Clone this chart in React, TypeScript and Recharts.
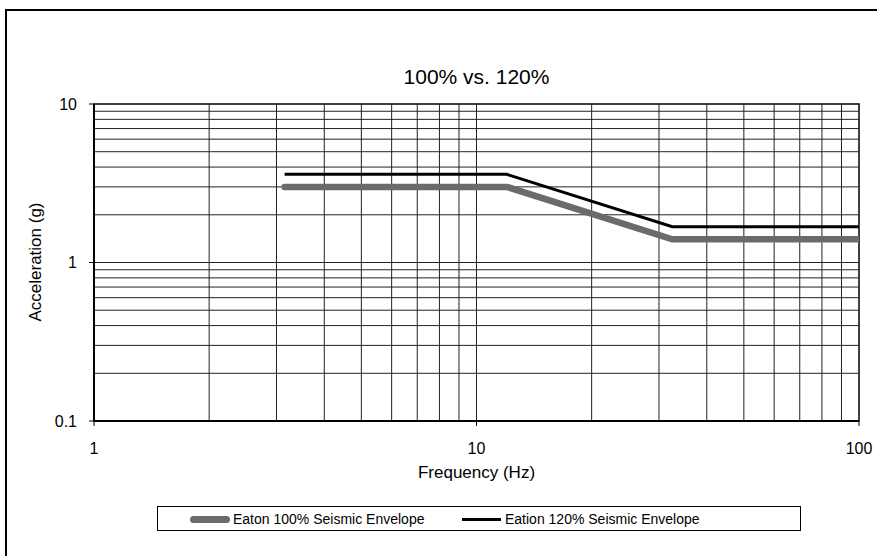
import React from "react";
import { LineChart, Line, XAxis, YAxis, ReferenceLine, ReferenceArea } from "recharts";

const frequencies = [3.15, 12, 32.5, 100];
const envelope100 = [3.0, 3.0, 1.4, 1.4];
const envelope120 = [3.6, 3.6, 1.68, 1.68];
const seriesNames = ["Eaton 100% Seismic Envelope", "Eation 120% Seismic Envelope"];
const chartTitle = "100% vs. 120%";
const xTitle = "Frequency (Hz)";
const yTitle = "Acceleration (g)";
const xTicks = [1, 10, 100];
const yTicks = [0.1, 1, 10];
const xGrid = [2, 3, 4, 5, 6, 7, 8, 9, 10, 20, 30, 40, 50, 60, 70, 80, 90];
const yGrid = [0.2, 0.3, 0.4, 0.5, 0.6, 0.7, 0.8, 0.9, 1, 2, 3, 4, 5, 6, 7, 8, 9];

const data = frequencies.map((f, i) => ({ f, a: envelope100[i], b: envelope120[i] }));

const FONT = "'Liberation Sans', Arial, sans-serif";
const GRAY = "#6b6b6b";

const LegendBox = () => (
  <div
    style={{
      position: "absolute",
      left: 157,
      top: 506,
      width: 644,
      height: 25,
      border: "1px solid #000",
      background: "#fff",
      boxSizing: "border-box",
      fontFamily: FONT,
      fontSize: 14,
      color: "#000",
    }}
  >
    <div style={{ position: "absolute", left: 32, top: 4, display: "flex", alignItems: "center" }}>
      <div style={{ width: 40, height: 7, background: GRAY, borderRadius: 3.5, marginRight: 3 }} />
      <span>{seriesNames[0]}</span>
    </div>
    <div style={{ position: "absolute", left: 304, top: 4, display: "flex", alignItems: "center" }}>
      <div style={{ width: 39, height: 3, background: "#000", marginRight: 4 }} />
      <span>{seriesNames[1]}</span>
    </div>
  </div>
);

export default function App() {
  return (
    <div
      style={{
        position: "fixed",
        left: 0,
        top: 0,
        width: 877,
        height: 556,
        overflow: "hidden",
        background: "#fff",
        fontFamily: FONT,
      }}
    >
      <div
        style={{
          position: "absolute",
          left: 5,
          top: 9,
          width: 900,
          height: 600,
          border: "2px solid #000",
        }}
      />
      <div style={{ position: "absolute", left: 0, top: 0 }}>
        <LineChart
          width={877}
          height={556}
          data={data}
          margin={{ top: 104, right: 18, bottom: 95, left: 34 }}
        >
          {xGrid.map((v) => (
            <ReferenceLine key={"x" + v} x={v} stroke="#222" strokeWidth={1} ifOverflow="hidden" />
          ))}
          {yGrid.map((v) => (
            <ReferenceLine key={"y" + v} y={v} stroke="#222" strokeWidth={1} ifOverflow="hidden" />
          ))}
          <ReferenceArea x1={1} x2={100} y1={0.1} y2={10} fill="none" stroke="#000" strokeWidth={1.5} />
          <XAxis
            dataKey="f"
            type="number"
            scale="log"
            domain={[1, 100]}
            ticks={xTicks}
            interval={0}
            allowDataOverflow
            height={40}
            tickSize={5}
            tickMargin={17}
            axisLine={{ stroke: "#000", strokeWidth: 2 }}
            tickLine={{ stroke: "#000", strokeWidth: 1 }}
            tick={{ fill: "#000", fontSize: 16, fontFamily: FONT }}
          />
          <YAxis
            type="number"
            scale="log"
            domain={[0.1, 10]}
            ticks={yTicks}
            interval={0}
            allowDataOverflow
            width={60}
            tickSize={5}
            tickMargin={12}
            axisLine={{ stroke: "#000", strokeWidth: 2 }}
            tickLine={{ stroke: "#000", strokeWidth: 1 }}
            tick={{ fill: "#000", fontSize: 16, fontFamily: FONT }}
          />
          <Line
            type="linear"
            dataKey="a"
            name={seriesNames[0]}
            stroke={GRAY}
            strokeWidth={6.5}
            strokeLinecap="round"
            dot={false}
            activeDot={false}
            isAnimationActive={false}
          />
          <Line
            type="linear"
            dataKey="b"
            name={seriesNames[1]}
            stroke="#000"
            strokeWidth={3}
            dot={false}
            activeDot={false}
            isAnimationActive={false}
          />
        </LineChart>
      </div>
      <div
        style={{
          position: "absolute",
          left: 94,
          width: 765,
          top: 65,
          textAlign: "center",
          fontSize: 21,
          color: "#000",
        }}
      >
        {chartTitle}
      </div>
      <div
        style={{
          position: "absolute",
          left: 94,
          width: 765,
          top: 463,
          textAlign: "center",
          fontSize: 17,
          color: "#000",
        }}
      >
        {xTitle}
      </div>
      <div
        style={{
          position: "absolute",
          left: 36,
          top: 262,
          transform: "translate(-50%, -50%) rotate(-90deg)",
          whiteSpace: "nowrap",
          fontSize: 17,
          color: "#000",
        }}
      >
        {yTitle}
      </div>
      <LegendBox />
    </div>
  );
}
